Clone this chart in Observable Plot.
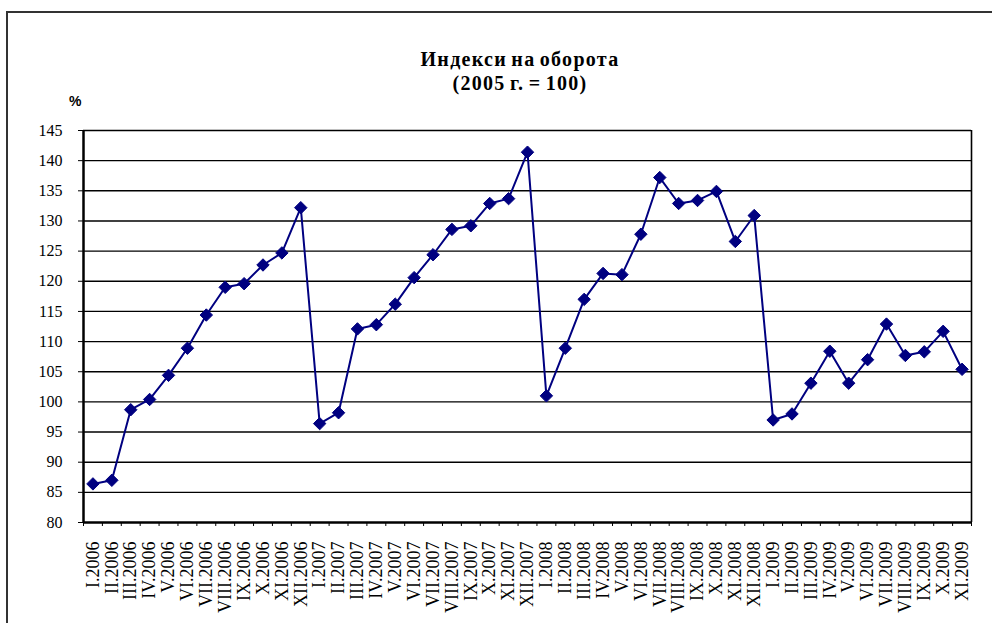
<!DOCTYPE html>
<html>
<head>
<meta charset="utf-8">
<script src="https://cdn.jsdelivr.net/npm/d3@7"></script>
<script src="https://cdn.jsdelivr.net/npm/@observablehq/plot@0.6"></script>
<style>
  html, body { margin: 0; padding: 0; background: #fff; }
  #wrap { position: relative; width: 992px; height: 623px; overflow: hidden; background: #fff; }
  #border { position: absolute; left: 6px; top: 11px; width: 1100px; height: 800px; border: 2px solid #333; box-sizing: border-box; }
  #title { position: absolute; left: 0; width: 1040px; top: 47px; text-align: center;
           font-family: "Liberation Serif", "Times New Roman", serif; font-weight: bold; font-size: 20px; line-height: 24px;
           letter-spacing: 1.3px; word-spacing: -2px; color: #000; }
  #unit { position: absolute; left: 69px; top: 93px; font-family: "Liberation Sans", Arial, sans-serif; font-weight: bold; font-size: 14px; color: #000; }
  #chart { position: absolute; left: 0; top: 0; }
  #chart svg text { font-family: "Liberation Serif", "Times New Roman", serif; }
</style>
</head>
<body>
<div id="wrap">
  <div id="border"></div>
  <div id="title">Индекси на оборота<br>(2005 г. = 100)</div>
  <div id="unit">%</div>
  <div id="chart"></div>
</div>
<script>
const labels = [
  "I.2006","II.2006","III.2006","IV.2006","V.2006","VI.2006","VII.2006","VIII.2006","IX.2006","X.2006","XI.2006","XII.2006",
  "I.2007","II.2007","III.2007","IV.2007","V.2007","VI.2007","VII.2007","VIII.2007","IX.2007","X.2007","XI.2007","XII.2007",
  "I.2008","II.2008","III.2008","IV.2008","V.2008","VI.2008","VII.2008","VIII.2008","IX.2008","X.2008","XI.2008","XII.2008",
  "I.2009","II.2009","III.2009","IV.2009","V.2009","VI.2009","VII.2009","VIII.2009","IX.2009","X.2009","XI.2009"
];
const values = [
  86.4, 87.0, 98.7, 100.4, 104.4, 108.9, 114.4, 119.0, 119.6, 122.7, 124.7, 132.2,
  96.4, 98.2, 112.1, 112.8, 116.2, 120.6, 124.4, 128.6, 129.2, 132.9, 133.7, 141.4,
  101.0, 108.9, 117.0, 121.3, 121.1, 127.8, 137.2, 132.9, 133.4, 134.9, 126.6, 130.9,
  97.0, 98.0, 103.1, 108.4, 103.1, 107.0, 112.9, 107.7, 108.3, 111.7, 105.4
];
const yTicks = [80, 85, 90, 95, 100, 105, 110, 115, 120, 125, 130, 135, 140, 145];

const n = labels.length;
const data = labels.map((label, i) => ({label, pos: i + 0.5, value: values[i]}));
const boundaries = d3.range(n + 1);
const centers = data.map(d => d.pos);
const serif = "'Liberation Serif', 'Times New Roman', serif";

const chart = Plot.plot({
  width: 992,
  height: 623,
  marginLeft: 83,
  marginRight: 21,
  marginTop: 130,
  marginBottom: 101,
  style: { fontFamily: serif, background: "transparent", color: "#000" },
  x: { domain: [0, n], axis: null },
  y: { domain: [80, 145], axis: null },
  marks: [
    Plot.gridY(yTicks.slice(1), { stroke: "#000", strokeOpacity: 1, strokeWidth: 1.4 }),
    Plot.ruleX([n], { stroke: "#000", strokeWidth: 1.6 }),
    Plot.axisY({ ticks: yTicks, tickSize: 5, tickPadding: 16, fontSize: 16, fontFamily: serif, label: null, tickFormat: d => String(d) }),
    Plot.axisX({ ticks: boundaries, tickSize: 4, label: null, tickFormat: () => "" }),
    Plot.axisX({ ticks: centers, tickSize: 0, tickPadding: 19, tickRotate: -90, fontSize: 18, fontFamily: serif, label: null,
                 tickFormat: d => labels[Math.floor(d)] }),
    Plot.ruleX([0], { stroke: "#000", strokeWidth: 2.5 }),
    Plot.ruleY([80], { stroke: "#000", strokeWidth: 2.5 }),
    Plot.line(data, { x: "pos", y: "value", stroke: "#000080", strokeWidth: 2 }),
    Plot.dot(data, { x: "pos", y: "value", symbol: "diamond2", r: 5.6, fill: "#000080", stroke: "#000080", strokeWidth: 1 })
  ]
});
document.getElementById("chart").appendChild(chart);
</script>
</body>
</html>
